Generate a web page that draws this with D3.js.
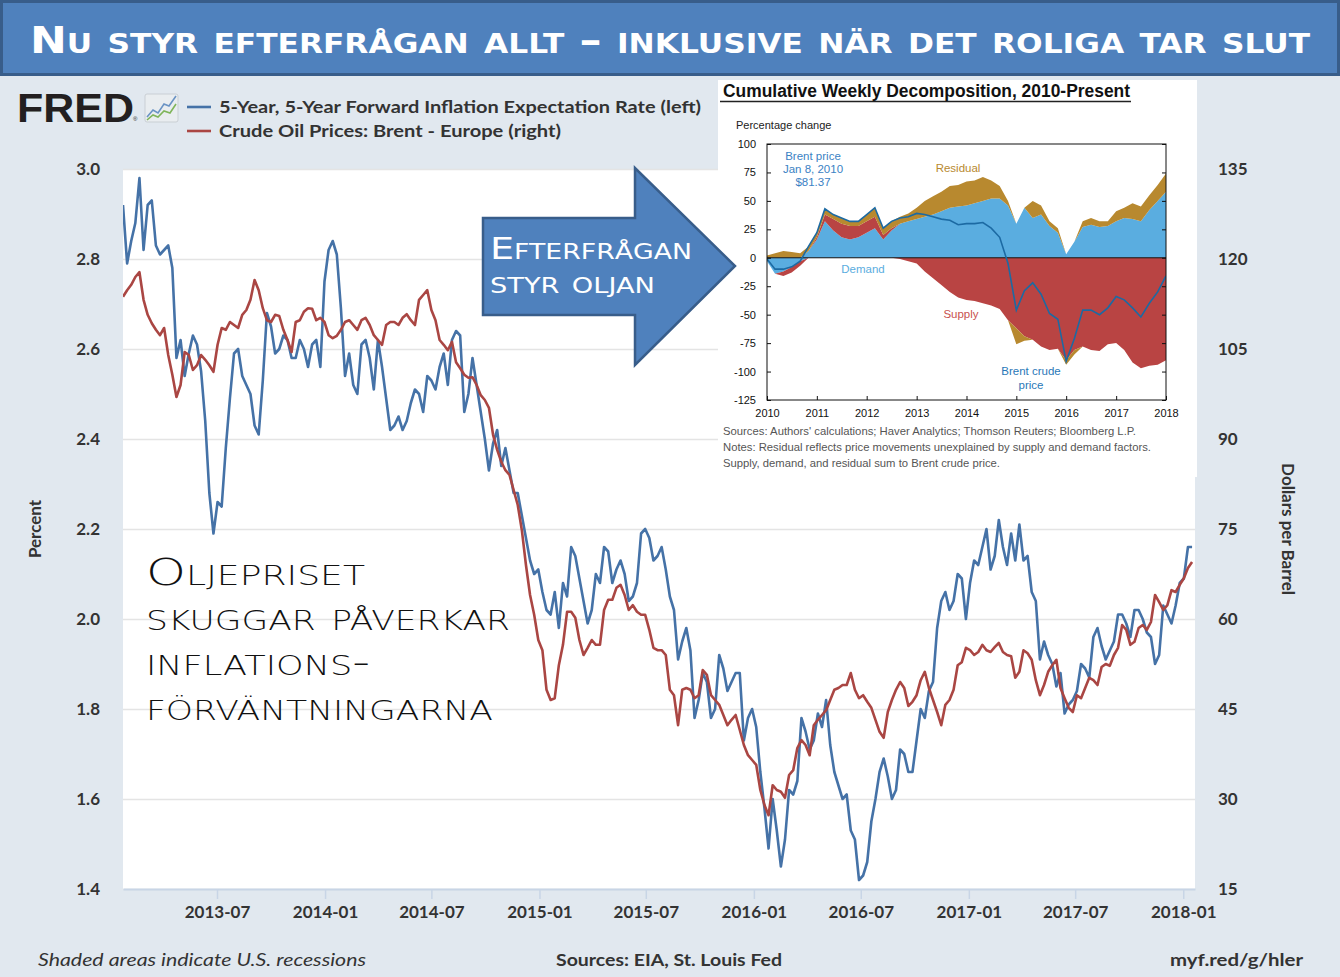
<!DOCTYPE html>
<html lang="sv">
<head>
<meta charset="utf-8">
<title>Inflationsförväntningar och oljepriset</title>
<script src="https://cdn.jsdelivr.net/npm/d3@7"></script>
<style>
  body { margin: 0; background: #e1e8ef; }
  svg { display: block; }
  .fred { font-family: Lato, "Noto Sans", sans-serif; fill: #333; }
  .caps { font-family: "DejaVu Sans", sans-serif; font-variant: small-caps; }
  .inset { font-family: "Liberation Sans", Arial, sans-serif; }
</style>
</head>
<body>
<script>
// main chart: weekly values, 2013-01-22 .. 2018-01-16
var inflation = [2.92, 2.79, 2.84, 2.88, 2.98, 2.82, 2.92, 2.93, 2.83, 2.81,
  2.82, 2.83, 2.78, 2.58, 2.62, 2.54, 2.59, 2.63, 2.61, 2.55,
  2.44, 2.28, 2.19, 2.26, 2.25, 2.38, 2.49, 2.59, 2.60, 2.54,
  2.52, 2.50, 2.43, 2.41, 2.53, 2.68, 2.65, 2.59, 2.60, 2.63,
  2.62, 2.58, 2.58, 2.62, 2.60, 2.56, 2.61, 2.62, 2.56, 2.75,
  2.82, 2.84, 2.81, 2.69, 2.54, 2.59, 2.52, 2.50, 2.61, 2.62,
  2.58, 2.51, 2.62, 2.56, 2.49, 2.42, 2.43, 2.45, 2.42, 2.44,
  2.48, 2.51, 2.50, 2.46, 2.54, 2.53, 2.51, 2.56, 2.59, 2.52,
  2.62, 2.64, 2.63, 2.46, 2.50, 2.58, 2.52, 2.46, 2.40, 2.33,
  2.39, 2.42, 2.34, 2.38, 2.33, 2.28, 2.28, 2.23, 2.18, 2.13,
  2.10, 2.11, 2.06, 2.02, 2.01, 2.06, 1.98, 2.08, 2.05, 2.16,
  2.14, 2.09, 2.04, 1.99, 2.02, 2.10, 2.08, 2.16, 2.15, 2.08,
  2.11, 2.13, 2.10, 2.04, 2.05, 2.08, 2.19, 2.20, 2.18, 2.13,
  2.14, 2.16, 2.11, 2.05, 2.02, 1.91, 1.95, 1.98, 1.93, 1.78,
  1.82, 1.88, 1.86, 1.78, 1.80, 1.92, 1.89, 1.84, 1.86, 1.88,
  1.88, 1.73, 1.78, 1.80, 1.76, 1.66, 1.58, 1.49, 1.60, 1.53,
  1.45, 1.51, 1.62, 1.61, 1.64, 1.78, 1.75, 1.71, 1.73, 1.79,
  1.76, 1.82, 1.72, 1.66, 1.63, 1.60, 1.61, 1.53, 1.51, 1.42,
  1.43, 1.46, 1.55, 1.60, 1.66, 1.69, 1.65, 1.60, 1.62, 1.71,
  1.70, 1.66, 1.66, 1.73, 1.80, 1.78, 1.84, 1.86, 1.98, 2.04,
  2.06, 2.02, 2.04, 2.10, 2.09, 2.00, 2.08, 2.13, 2.12, 2.16,
  2.20, 2.11, 2.14, 2.22, 2.16, 2.12, 2.19, 2.13, 2.21, 2.13,
  2.14, 2.06, 2.04, 1.91, 1.95, 1.92, 1.90, 1.85, 1.88, 1.79,
  1.81, 1.82, 1.84, 1.90, 1.89, 1.87, 1.96, 1.98, 1.94, 1.91,
  1.93, 1.95, 2.01, 2.01, 1.99, 1.96, 2.02, 2.02, 2.00, 1.97,
  1.96, 1.90, 1.92, 2.03, 2.01, 1.99, 2.03, 2.08, 2.09, 2.16,
  2.16];

var brent = [113.7, 114.8, 115.7, 117.0, 117.8, 113.2, 110.7, 109.3, 108.2, 107.3,
  108.5, 104.0, 100.7, 97.0, 99.0, 104.5, 104.0, 101.5, 102.3, 104.0,
  103.2, 102.3, 101.2, 105.7, 108.5, 108.2, 109.5, 109.0, 108.5, 110.7,
  111.5, 113.2, 116.5, 114.8, 111.8, 109.8, 109.5, 110.7, 110.5, 108.2,
  106.5, 104.5, 109.5, 109.8, 111.2, 111.8, 111.7, 109.8, 110.2, 109.5,
  107.3, 106.8, 107.2, 108.2, 109.5, 109.8, 109.0, 108.2, 109.8, 110.2,
  109.0, 107.3, 106.5, 105.7, 109.0, 109.5, 109.5, 109.0, 110.2, 110.8,
  109.8, 109.0, 113.2, 114.0, 114.8, 111.5, 109.8, 106.5, 105.7, 104.8,
  106.2, 102.8, 101.8, 100.7, 100.2, 100.3, 99.0, 97.3, 96.5, 95.2,
  90.7, 88.2, 86.2, 84.8, 84.0, 81.5, 79.0, 74.8, 69.0, 64.0,
  60.7, 56.5, 54.8, 48.2, 46.5, 46.8, 52.3, 55.7, 61.2, 61.2,
  60.2, 56.5, 54.0, 55.2, 56.5, 55.7, 55.7, 61.5, 63.2, 63.2,
  65.2, 65.7, 64.0, 61.5, 62.3, 61.2, 60.7, 60.7, 58.2, 55.2,
  54.8, 54.8, 54.0, 48.2, 47.3, 42.3, 48.2, 48.5, 48.2, 46.8,
  47.3, 51.5, 50.7, 47.3, 46.5, 45.7, 44.0, 42.3, 43.2, 44.0,
  41.5, 39.0, 37.3, 36.5, 35.7, 31.5, 29.0, 27.3, 32.3, 31.5,
  31.2, 30.2, 34.0, 34.8, 38.5, 39.8, 39.0, 37.3, 42.3, 43.2,
  44.0, 44.8, 46.5, 48.2, 48.5, 49.0, 49.0, 51.0, 48.2, 46.8,
  47.3, 46.2, 45.2, 43.2, 41.2, 40.2, 44.5, 46.5, 48.2, 49.5,
  48.5, 45.5, 46.2, 47.3, 49.8, 51.2, 48.5, 46.5, 44.5, 42.3,
  45.7, 46.5, 48.2, 52.3, 52.8, 55.2, 54.8, 54.0, 54.5, 55.7,
  54.8, 54.5, 55.3, 56.0, 54.5, 54.0, 53.8, 50.2, 51.2, 54.8,
  54.3, 53.2, 49.8, 47.3, 49.0, 51.2, 52.3, 53.2, 48.5, 46.8,
  45.2, 44.5, 47.3, 46.8, 48.5, 50.2, 49.8, 49.0, 52.0, 52.5,
  52.2, 54.0, 55.2, 59.0, 58.2, 55.7, 56.2, 58.5, 59.0, 58.2,
  59.5, 64.0, 62.8, 61.5, 62.3, 64.8, 64.5, 65.7, 66.8, 68.5,
  69.5];

var startDate = new Date(2013, 0, 22);
var endDate = new Date(2018, 0, 21);
var dates = d3.timeDay.range(startDate, endDate, 7);

var leftTicks = [1.4, 1.6, 1.8, 2.0, 2.2, 2.4, 2.6, 2.8, 3.0];
var rightTicks = [15, 30, 45, 60, 75, 90, 105, 120, 135];
var xTickLabels = ["2013-07", "2014-01", "2014-07", "2015-01", "2015-07",
  "2016-01", "2016-07", "2017-01", "2017-07", "2018-01"];

// inset: cumulative decomposition, every two months 2010-01 .. 2018-01
var insetDates = d3.timeMonth.range(new Date(2010, 0, 1), new Date(2018, 0, 2), 2);
var demand = [-3, -14, -12, -8, -3, 6, 16, 32, 24, 18,
  16, 18, 22, 26, 16, 24, 30, 32, 34, 36,
  38, 41, 44, 45, 46, 48, 50, 52, 52, 46,
  30, 44, 35, 38, 28, 22, 3, 14, 27, 29,
  27, 28, 32, 35, 34, 32, 42, 50, 58];
var supply = [0, 0, -4, -5, -4, 0, 2, 6, 10, 12,
  12, 10, 10, 10, 4, 2, -1, -3, -5, -12,
  -18, -24, -30, -35, -37, -38, -40, -42, -45, -55,
  -62, -69, -72, -78, -81, -80, -90, -81, -78, -81,
  -82, -76, -75, -81, -92, -97, -95, -94, -90];
var residual = [2, 4, 6, 5, 4, 4, 4, 5, 4, 5,
  4, 4, 6, 8, 6, 6, 6, 7, 10, 14,
  16, 17, 19, 19, 21, 20, 21, 16, 11, 4,
  -14, -4, 15, 8, 4, 4, -4, -4, 5, 6,
  5, 4, 9, 9, 14, 13, 13, 14, 16];
var insetYTicks = [-125, -100, -75, -50, -25, 0, 25, 50, 75, 100];
var insetYears = [2010, 2011, 2012, 2013, 2014, 2015, 2016, 2017, 2018];

var title = "Nu styr efterfrågan allt \u2013 inklusive när det roliga tar slut";

var svg = d3.select("body").append("svg")
  .attr("width", 1340)
  .attr("height", 977);

svg.append("rect").attr("width", 1340).attr("height", 977).attr("fill", "#e1e8ef");

// banner
svg.append("rect")
  .attr("x", 1.5).attr("y", 1.5).attr("width", 1337).attr("height", 73)
  .attr("fill", "#4f81bd").attr("stroke", "#385d8a").attr("stroke-width", 3);
svg.append("text").attr("class", "caps")
  .attr("x", 30).attr("y", 53)
  .attr("font-size", 38).attr("font-weight", 700).attr("fill", "#fff")
  .attr("textLength", 1280).attr("lengthAdjust", "spacingAndGlyphs")
  .text(title);

// main plot
var px0 = 123, px1 = 1195, py0 = 169, py1 = 889;
var x = d3.scaleTime().domain([startDate, endDate]).range([px0, px1]);
var yL = d3.scaleLinear().domain([1.4, 3.0]).range([py1, py0]);
var yR = d3.scaleLinear().domain([15, 135]).range([py1, py0]);

svg.append("rect").attr("x", px0).attr("y", py0)
  .attr("width", px1 - px0).attr("height", py1 - py0).attr("fill", "#fff");

var gL = svg.append("g").attr("transform", "translate(" + px0 + ",0)")
  .call(d3.axisLeft(yL).tickValues(leftTicks).tickFormat(d3.format(".1f"))
    .tickSize(-(px1 - px0)).tickPadding(23));
gL.select(".domain").remove();
gL.selectAll("line").attr("stroke", "#e4e4e4").attr("stroke-width", 1.5);
gL.selectAll("text").attr("class", "fred").attr("font-size", 17).attr("font-weight", 700)
  .attr("fill", "#333");

var gR = svg.append("g").attr("transform", "translate(" + px1 + ",0)")
  .call(d3.axisRight(yR).tickValues(rightTicks).tickSize(0).tickPadding(23));
gR.select(".domain").remove();
gR.selectAll("text").attr("class", "fred").attr("font-size", 17).attr("font-weight", 700)
  .attr("fill", "#333");

var parseMonth = d3.timeParse("%Y-%m");
var gB = svg.append("g").attr("transform", "translate(0," + py1 + ")")
  .call(d3.axisBottom(x).tickValues(xTickLabels.map(parseMonth))
    .tickFormat(d3.timeFormat("%Y-%m")).tickSize(10).tickSizeOuter(0).tickPadding(7));
gB.select(".domain").attr("stroke", "#c8d5e6").attr("stroke-width", 2);
gB.selectAll("line").attr("stroke", "#c8d5e6").attr("stroke-width", 1.5);
gB.selectAll("text").attr("class", "fred").attr("font-size", 17).attr("font-weight", 700)
  .attr("fill", "#333");

svg.append("clipPath").attr("id", "plotclip").append("rect")
  .attr("x", px0).attr("y", py0 - 2).attr("width", px1 - px0).attr("height", py1 - py0 + 2);

var lineL = d3.line().x(function(d, i) { return x(dates[i]); }).y(function(d) { return yL(d); });
var lineR = d3.line().x(function(d, i) { return x(dates[i]); }).y(function(d) { return yR(d); });

var lines = svg.append("g").attr("clip-path", "url(#plotclip)");
lines.append("path").datum(inflation).attr("d", lineL)
  .attr("fill", "none").attr("stroke", "#4572a7").attr("stroke-width", 2.6)
  .attr("stroke-linejoin", "round");
lines.append("path").datum(brent).attr("d", lineR)
  .attr("fill", "none").attr("stroke", "#aa4643").attr("stroke-width", 2.6)
  .attr("stroke-linejoin", "round");

// axis titles
svg.append("text").attr("class", "fred")
  .attr("transform", "translate(41,529) rotate(-90)")
  .attr("text-anchor", "middle").attr("font-size", 17).attr("font-weight", 700)
  .text("Percent");
svg.append("text").attr("class", "fred")
  .attr("transform", "translate(1282,529) rotate(90)")
  .attr("text-anchor", "middle").attr("font-size", 17).attr("font-weight", 700)
  .text("Dollars per Barrel");

// FRED logo and legend
svg.append("text")
  .attr("x", 17).attr("y", 122)
  .attr("font-family", "Liberation Sans, Arial, sans-serif")
  .attr("font-size", 41).attr("font-weight", 900).attr("fill", "#231f20")
  .attr("textLength", 117).attr("lengthAdjust", "spacingAndGlyphs")
  .text("FRED");
svg.append("text").attr("x", 133).attr("y", 121).attr("font-size", 6)
  .attr("font-family", "sans-serif").attr("fill", "#231f20").text("®");
var icon = svg.append("g");
icon.append("rect").attr("x", 145).attr("y", 94).attr("width", 33).attr("height", 28)
  .attr("rx", 2).attr("fill", "#e9edf0").attr("stroke", "#c9cfd4");
icon.append("polyline").attr("points", "147,117 153,110 158,113 164,104 169,106 176,96")
  .attr("fill", "none").attr("stroke", "#6a93c4").attr("stroke-width", 1.6);
icon.append("polyline").attr("points", "147,120 153,115 158,117 164,111 170,113 176,104")
  .attr("fill", "none").attr("stroke", "#7fb55a").attr("stroke-width", 1.6);

var legend = [
  { label: "5-Year, 5-Year Forward Inflation Expectation Rate (left)", color: "#4572a7", w: 482 },
  { label: "Crude Oil Prices: Brent - Europe (right)", color: "#aa4643", w: 342 }
];
var lg = svg.selectAll("g.legend").data(legend).enter().append("g")
  .attr("class", "legend")
  .attr("transform", function(d, i) { return "translate(0," + (107 + i * 24) + ")"; });
lg.append("line").attr("x1", 187).attr("x2", 211)
  .attr("stroke", function(d) { return d.color; }).attr("stroke-width", 2.6);
lg.append("text").attr("class", "fred").attr("x", 219).attr("y", 6)
  .attr("font-size", 17).attr("font-weight", 700).attr("fill", "#444")
  .attr("textLength", function(d) { return d.w; }).attr("lengthAdjust", "spacingAndGlyphs")
  .text(function(d) { return d.label; });

// footer
var footer = [
  { t: "Shaded areas indicate U.S. recessions", x: 38, anchor: "start", w: 328, italic: true },
  { t: "Sources: EIA, St. Louis Fed", x: 669, anchor: "middle", w: 226, italic: false },
  { t: "myf.red/g/hler", x: 1303, anchor: "end", w: 133, italic: false }
];
svg.selectAll("text.foot").data(footer).enter().append("text")
  .attr("class", "fred foot")
  .attr("x", function(d) { return d.x; }).attr("y", 966)
  .attr("text-anchor", function(d) { return d.anchor; })
  .attr("font-size", 17)
  .attr("font-style", function(d) { return d.italic ? "italic" : "normal"; })
  .attr("font-weight", function(d) { return d.italic ? 400 : 700; })
  .attr("fill", function(d) { return d.italic ? "#555" : "#333"; })
  .attr("textLength", function(d) { return d.w; })
  .attr("lengthAdjust", "spacingAndGlyphs")
  .text(function(d) { return d.t; });

// annotation text
var note = ["Oljepriset", "skuggar påverkar", "inflations-", "förväntningarna"];
var noteW = [219, 364, 224, 347];
svg.selectAll("text.note").data(note).enter().append("text")
  .attr("class", "caps note")
  .attr("x", 146).attr("y", function(d, i) { return 585 + i * 45; })
  .attr("font-size", 38).attr("font-weight", 300).attr("fill", "#111")
  .attr("textLength", function(d, i) { return noteW[i]; })
  .attr("lengthAdjust", "spacingAndGlyphs")
  .text(function(d) { return d; });

// inset chart
var inset = svg.append("g").attr("class", "inset");
inset.append("rect").attr("x", 718).attr("y", 80).attr("width", 479).attr("height", 397)
  .attr("fill", "#fff");
inset.append("text").attr("x", 723).attr("y", 97)
  .attr("font-family", "'Liberation Sans Narrow', 'Liberation Sans', Arial, sans-serif")
  .attr("font-size", 18).attr("font-weight", 700).attr("fill", "#111")
  .attr("textLength", 407).attr("lengthAdjust", "spacingAndGlyphs")
  .text("Cumulative Weekly Decomposition, 2010-Present");
inset.append("line").attr("x1", 720).attr("x2", 1131).attr("y1", 101.5).attr("y2", 101.5)
  .attr("stroke", "#222").attr("stroke-width", 1.5);
inset.append("text").attr("x", 736).attr("y", 129).attr("font-size", 11).attr("fill", "#222")
  .text("Percentage change");

var ix = d3.scaleTime().domain([new Date(2010, 0, 1), new Date(2018, 0, 1)]).range([767, 1166]);
var iy = d3.scaleLinear().domain([-125, 100]).range([400, 144]);

// positive parts stack upward from zero, negative parts stack downward from zero
var rows = insetDates.map(function(d, i) {
  return {
    date: d,
    demandPos: Math.max(0, demand[i]), supplyPos: Math.max(0, supply[i]), residualPos: Math.max(0, residual[i]),
    demandNeg: Math.min(0, demand[i]), supplyNeg: Math.min(0, supply[i]), residualNeg: Math.min(0, residual[i]),
    total: demand[i] + supply[i] + residual[i]
  };
});
var posSeries = d3.stack().keys(["demandPos", "supplyPos", "residualPos"])(rows);
var negSeries = d3.stack().keys(["demandNeg", "supplyNeg", "residualNeg"])(rows);
var series = posSeries.concat(negSeries);
var fills = { demand: "#5aade0", supply: "#b94443", residual: "#b8892f" };

inset.append("clipPath").attr("id", "insetclip").append("rect")
  .attr("x", 767).attr("y", 144).attr("width", 399).attr("height", 256);

var area = d3.area()
  .x(function(d) { return ix(d.data.date); })
  .y0(function(d) { return iy(d[0]); })
  .y1(function(d) { return iy(d[1]); });

var plotI = inset.append("g").attr("clip-path", "url(#insetclip)");
plotI.selectAll("path.layer").data(series).enter().append("path")
  .attr("class", "layer")
  .attr("fill", function(d) { return fills[d.key.replace(/Pos|Neg/, "")]; })
  .attr("d", area);

plotI.append("line").attr("x1", 767).attr("x2", 1166)
  .attr("y1", iy(0)).attr("y2", iy(0)).attr("stroke", "#111").attr("stroke-width", 1);

var brentLine = d3.line()
  .x(function(d) { return ix(d.date); })
  .y(function(d) { return iy(d.total); });
plotI.append("path").datum(rows).attr("d", brentLine)
  .attr("fill", "none").attr("stroke", "#1c6aa3").attr("stroke-width", 1.6);

inset.append("rect").attr("x", 767).attr("y", 144).attr("width", 399).attr("height", 256)
  .attr("fill", "none").attr("stroke", "#111").attr("stroke-width", 1);

var iL = inset.append("g").attr("transform", "translate(767,0)")
  .call(d3.axisLeft(iy).tickValues(insetYTicks).tickSize(-4).tickPadding(11)
    .tickFormat(function(d) { return String(d); }));
var iR = inset.append("g").attr("transform", "translate(1166,0)")
  .call(d3.axisRight(iy).tickValues(insetYTicks).tickSize(-4).tickFormat(""));
var iB = inset.append("g").attr("transform", "translate(0,400)")
  .call(d3.axisBottom(ix).tickValues(insetYears.map(function(y) { return new Date(y, 0, 1); }))
    .tickFormat(d3.timeFormat("%Y")).tickSize(-4).tickPadding(9));
[iL, iR, iB].forEach(function(g) {
  g.select(".domain").remove();
  g.selectAll("line").attr("stroke", "#111");
  g.selectAll("text").attr("font-family", "Liberation Sans, Arial, sans-serif")
    .attr("font-size", 11).attr("fill", "#111");
});

var insetLabels = [
  { t: "Brent price", x: 813, y: 160, c: "#3b82c4" },
  { t: "Jan 8, 2010", x: 813, y: 173, c: "#3b82c4" },
  { t: "$81.37", x: 813, y: 186, c: "#3b82c4" },
  { t: "Residual", x: 958, y: 172, c: "#b8892f" },
  { t: "Demand", x: 863, y: 273, c: "#5aade0" },
  { t: "Supply", x: 961, y: 318, c: "#c8514e" },
  { t: "Brent crude", x: 1031, y: 375, c: "#2a78b8" },
  { t: "price", x: 1031, y: 389, c: "#2a78b8" }
];
inset.selectAll("text.lab").data(insetLabels).enter().append("text")
  .attr("class", "lab")
  .attr("x", function(d) { return d.x; }).attr("y", function(d) { return d.y; })
  .attr("text-anchor", "middle").attr("font-size", 11.5)
  .attr("fill", function(d) { return d.c; })
  .text(function(d) { return d.t; });

var notes = [
  "Sources: Authors' calculations; Haver Analytics; Thomson Reuters; Bloomberg L.P.",
  "Notes: Residual reflects price movements unexplained by supply and demand factors.",
  "Supply, demand, and residual sum to Brent crude price."
];
var notesW = [413, 428, 277];
inset.selectAll("text.src").data(notes).enter().append("text")
  .attr("class", "src")
  .attr("x", 723).attr("y", function(d, i) { return 435 + i * 16; })
  .attr("font-size", 10.5).attr("fill", "#555")
  .attr("textLength", function(d, i) { return notesW[i]; })
  .attr("lengthAdjust", "spacingAndGlyphs")
  .text(function(d) { return d; });

// block arrow
svg.append("path")
  .attr("d", "M483,218 L635,218 L635,168 L735,266 L635,365 L635,315 L483,315 Z")
  .attr("fill", "#4f81bd").attr("stroke", "#385d8a").attr("stroke-width", 2.5);
var arrowText = ["Efterfrågan", "styr oljan"];
var arrowW = [202, 165];
svg.selectAll("text.arrow").data(arrowText).enter().append("text")
  .attr("class", "caps arrow")
  .attr("x", 490).attr("y", function(d, i) { return 259 + i * 34; })
  .attr("font-size", 30).attr("fill", "#fff")
  .attr("textLength", function(d, i) { return arrowW[i]; })
  .attr("lengthAdjust", "spacingAndGlyphs")
  .text(function(d) { return d; });
</script>
</body>
</html>
